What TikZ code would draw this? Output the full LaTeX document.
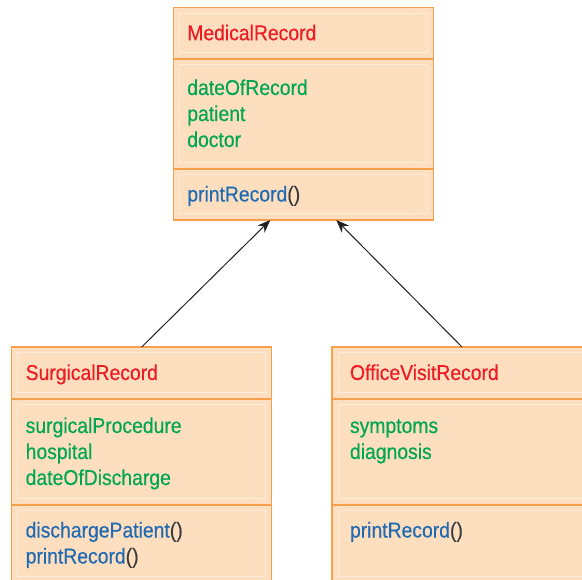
\documentclass[tikz,border=0pt]{standalone}
\usepackage{fontspec}
\newfontfamily\umlfont{Liberation Sans}[FakeStretch=0.9, FakeBold=0.4]
\usetikzlibrary{positioning,arrows.meta}
\definecolor{umlline}{HTML}{F6A04D}
\definecolor{umlfill}{HTML}{FDDFBF}
\definecolor{umlinner}{HTML}{FEEBD8}
\definecolor{umlname}{HTML}{ED1C24}
\definecolor{umlattr}{HTML}{00A651}
\definecolor{umlop}{HTML}{1F6AB2}
\definecolor{umlparen}{HTML}{3A3A3A}
\definecolor{umlarrow}{HTML}{231F20}
\newcommand{\opname}[1]{\textcolor{umlop}{#1}\textcolor{umlparen}{()}}
\newcommand{\ustrut}{\rule[-5pt]{0pt}{24pt}}

\begin{document}
\begin{tikzpicture}[
  x=1pt, y=1pt,
  comp/.style={draw=umlline, line width=1.5pt, fill=umlfill, outer sep=0pt,
               text width=232pt, inner xsep=14pt, inner ysep=0pt, align=left,
               font=\umlfont\fontsize{21.5}{26}\selectfont,
               execute at begin node=\ustrut, execute at end node=\ustrut,
               path picture={\draw[umlinner, line width=1pt]
                 ([shift={(6pt,-6pt)}]path picture bounding box.north west) rectangle
                 ([shift={(-6pt,6pt)}]path picture bounding box.south east);}},
  cname/.style={comp, minimum height=52pt, text=umlname},
  cattr/.style={comp, minimum height=106pt, text=umlattr},
  cops/.style={comp, minimum height=51pt},
  wide/.style={inner xsep=18pt, text width=224pt},
  gen/.style={-{Stealth[length=13pt, width=10pt]}, draw=umlarrow, line width=1pt}
]
\useasboundingbox (0,0) rectangle (582,-580);
% superclass
\node[cname, minimum height=51.5pt, anchor=north west] (med) at (173.3,-7.5) {MedicalRecord};
\node[cattr, minimum height=110pt, below=0pt of med] (medattr) {dateOfRecord\\patient\\doctor};
\node[cops, below=0pt of medattr] (medops) {\opname{printRecord}};
% subclasses
\node[cname, anchor=north west] (surg) at (11.7,-347) {SurgicalRecord};
\node[cattr, below=0pt of surg] (surgattr) {surgicalProcedure\\hospital\\dateOfDischarge};
\node[cops, minimum height=77pt, below=0pt of surgattr] (surgops) {\opname{dischargePatient}\\\opname{printRecord}};
\node[cname, wide, anchor=north west] (office) at (332,-347) {OfficeVisitRecord};
\node[cattr, wide, below=0pt of office] (officeattr) {symptoms\\diagnosis\\\ustrut};
\node[cops, wide, minimum height=77pt, below=0pt of officeattr] (officeops) {\opname{printRecord}\\\ustrut};
% generalization
\draw[gen] (surg.north) -- ([xshift=-33pt]medops.south);
\draw[gen] (office.north) -- ([xshift=33pt]medops.south);
\end{tikzpicture}
\end{document}
